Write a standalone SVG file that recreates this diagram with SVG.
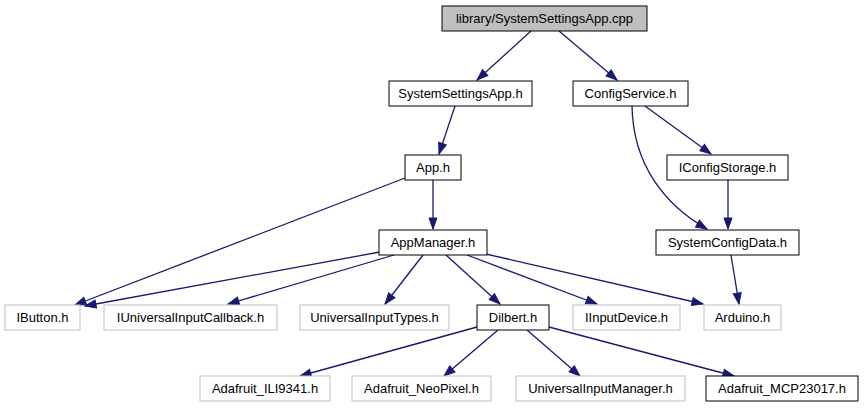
<svg xmlns="http://www.w3.org/2000/svg" width="864" height="411" viewBox="0 0 864 411">
<style>
rect{stroke-width:1}
.blk{fill:#ffffff;stroke:#000000}
.gry{fill:#ffffff;stroke:#bfbfbf}
.root{fill:#bfbfbf;stroke:#000000}
text{font-family:"Liberation Sans",Arial,sans-serif;font-size:13px;fill:#000000;text-anchor:middle}
.e{fill:none;stroke:#191970;stroke-width:1.3;marker-end:url(#ah)}
</style>
<defs>
<marker id="ah" markerUnits="userSpaceOnUse" markerWidth="14" markerHeight="10" refX="11" refY="4" orient="auto" viewBox="-1 -1 14 10">
<path d="M0,0 L11,4 L0,8 Z" fill="#191970" stroke="#191970" stroke-width="1"/>
</marker>
</defs>
<rect width="864" height="411" fill="#ffffff"/>
<g id="edges">
<path class="e" d="M531,31 L477,80"/>
<path class="e" d="M559,31 L617,80"/>
<path class="e" d="M455,106 L439,154"/>
<path class="e" d="M433,180 L433,229"/>
<path class="e" d="M405,178 L75,305"/>
<path class="e" d="M380,252 L85,306"/>
<path class="e" d="M394,255 L228,304"/>
<path class="e" d="M423,255 L385,304"/>
<path class="e" d="M446,255 L500,304"/>
<path class="e" d="M467,255 L597,304"/>
<path class="e" d="M486,254 L703,304"/>
<path class="e" d="M731,255 L739,304"/>
<path class="e" d="M645,106 L711,154"/>
<path class="e" d="M632,106 C633,165 665,205 707,229"/>
<path class="e" d="M728,180 L728,229"/>
<path class="e" d="M477,327 L300,376"/>
<path class="e" d="M498,330 L444,376"/>
<path class="e" d="M527,330 L580,376"/>
<path class="e" d="M549,327 L734,376"/>
</g>
<g id="n_cpp"><rect class="root" x="442" y="6" width="205" height="25"/><text x="544.5" y="23">library/SystemSettingsApp.cpp</text></g>
<g id="n_ssapp"><rect class="blk" x="389" y="81" width="143" height="25"/><text x="460.5" y="98">SystemSettingsApp.h</text></g>
<g id="n_configservice"><rect class="blk" x="573" y="81" width="115" height="25"/><text x="630.5" y="98">ConfigService.h</text></g>
<g id="n_app"><rect class="blk" x="405" y="155" width="56" height="25"/><text x="433" y="172">App.h</text></g>
<g id="n_iconfigstorage"><rect class="blk" x="667" y="155" width="121" height="25"/><text x="727.5" y="172">IConfigStorage.h</text></g>
<g id="n_appmanager"><rect class="blk" x="379" y="230" width="108" height="25"/><text x="433" y="247">AppManager.h</text></g>
<g id="n_systemconfigdata"><rect class="blk" x="656" y="230" width="143" height="25"/><text x="727.5" y="247">SystemConfigData.h</text></g>
<g id="n_ibutton"><rect class="gry" x="5" y="305" width="75" height="25"/><text x="42.5" y="322">IButton.h</text></g>
<g id="n_iuic"><rect class="gry" x="104" y="305" width="173" height="25"/><text x="190.5" y="322">IUniversalInputCallback.h</text></g>
<g id="n_uit"><rect class="gry" x="300" y="305" width="149" height="25"/><text x="374.5" y="322">UniversalInputTypes.h</text></g>
<g id="n_dilbert"><rect class="blk" x="477" y="305" width="72" height="25"/><text x="513" y="322">Dilbert.h</text></g>
<g id="n_iinputdevice"><rect class="gry" x="573" y="305" width="107" height="25"/><text x="626.5" y="322">IInputDevice.h</text></g>
<g id="n_arduino"><rect class="gry" x="704" y="305" width="77" height="25"/><text x="742.5" y="322">Arduino.h</text></g>
<g id="n_ili9341"><rect class="gry" x="200" y="376" width="130" height="25"/><text x="265" y="393">Adafruit_ILI9341.h</text></g>
<g id="n_neopixel"><rect class="gry" x="352" y="376" width="139" height="25"/><text x="421.5" y="393">Adafruit_NeoPixel.h</text></g>
<g id="n_uim"><rect class="gry" x="516" y="376" width="169" height="25"/><text x="600.5" y="393">UniversalInputManager.h</text></g>
<g id="n_mcp"><rect class="blk" x="706" y="376" width="152" height="25"/><text x="782" y="393">Adafruit_MCP23017.h</text></g>
</svg>
